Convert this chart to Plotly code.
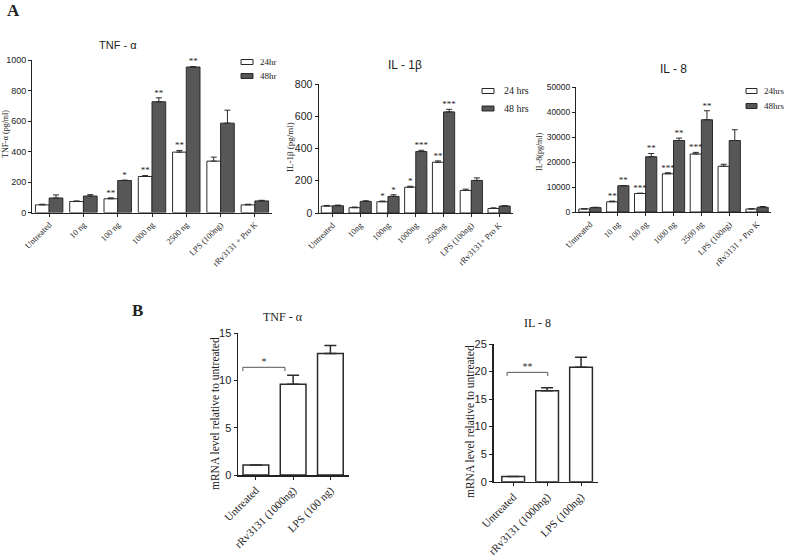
import plotly.graph_objects as go

W, H = 787, 556

# ---------------- data ----------------
tnf_cats = ["Untreated", "10 ng", "100 ng", "1000 ng", "2500 ng", "LPS (100ng)", "rRv3131 + Pro K"]
il1_cats = ["Untreated", "10ng", "100ng", "1000ng", "2500ng", "LPS (100ng)", "rRv3131+ Pro K"]
il8_cats = ["Untreated", "10 ng", "100 ng", "1000 ng", "2500 ng", "LPS (100ng)", "rRv3131 + Pro K"]

tnf_24 = [50, 72, 90, 236, 396, 337, 50]
tnf_24_err = [4, 4, 6, 6, 11, 26, 4]
tnf_48 = [95, 108, 210, 726, 954, 586, 76]
tnf_48_err = [20, 9, 2, 26, 3, 85, 4]
tnf_24_sig = ["", "", "**", "**", "**", "", ""]
tnf_48_sig = ["", "", "*", "**", "**", "", ""]

il1_24 = [43, 33, 70, 160, 315, 140, 28]
il1_24_err = [4, 4, 4, 6, 8, 8, 4]
il1_48 = [45, 72, 103, 381, 627, 202, 43]
il1_48_err = [4, 4, 10, 8, 16, 16, 2]
il1_24_sig = ["", "", "*", "*", "**", "", ""]
il1_48_sig = ["", "", "*", "***", "***", "", ""]

il8_24 = [1200, 4100, 7400, 15300, 23200, 18300, 1200]
il8_24_err = [150, 270, 150, 400, 650, 800, 150]
il8_48 = [1750, 10500, 22100, 28600, 36900, 28600, 1900]
il8_48_err = [150, 100, 1300, 950, 3600, 4300, 300]
il8_24_sig = ["", "**", "***", "***", "***", "", ""]
il8_48_sig = ["", "**", "**", "**", "**", "", ""]

b_tnf_cats = ["Untreated", "rRv3131 (1000ng)", "LPS (100 ng)"]
b_tnf = [1.05, 9.6, 12.85]
b_tnf_err = [0, 0.95, 0.85]
b_tnf_bracket = [-0.35, 0.78, 11.0, 11.4]   # x0, x1, foot, top
b_tnf_sig = "*"

b_il8_cats = ["Untreated", "rRv3131 (1000ng)", "LPS (100ng)"]
b_il8 = [0.95, 16.5, 20.8]
b_il8_err = [0, 0.55, 1.8]
b_il8_bracket = [-0.18, 1.02, 19.2, 19.85]
b_il8_sig = "**"

# ---------------- styles ----------------
SANS = "Liberation Sans, Arial, sans-serif"
SERIF = "Liberation Serif, Times New Roman, serif"
DARK = "#575757"
EDGE = "#2b2b2b"


def fx(x):
    return x / W


def fy(y):
    return 1 - y / H


fig = go.Figure()


def add_pair(ax, cats, v24, e24, v48, e48, s24, s48, name24, name48):
    xs = list(range(len(cats)))
    xa = "x" if ax == 1 else f"x{ax}"
    ya = "y" if ax == 1 else f"y{ax}"
    for vals, errs, fill, nm in ((v24, e24, "white", name24), (v48, e48, DARK, name48)):
        fig.add_trace(go.Bar(
            x=xs, y=vals, name=nm, xaxis=xa, yaxis=ya, showlegend=False,
            marker=dict(color=fill, line=dict(color=EDGE, width=1)),
            error_y=dict(type="data", array=errs, arrayminus=[0] * len(errs), symmetric=False,
                         color=EDGE, thickness=1, width=3),
        ))
    for vals, errs, sig, off in ((v24, e24, s24, -0.2), (v48, e48, s48, 0.2)):
        fig.add_trace(go.Scatter(
            x=[i + off for i in xs], y=[v + e for v, e in zip(vals, errs)], text=sig,
            mode="text", textposition="top center", xaxis=xa, yaxis=ya, showlegend=False,
            cliponaxis=False,
            textfont=dict(family=SERIF, size=9, color="#222"), hoverinfo="skip",
        ))


add_pair(1, tnf_cats, tnf_24, tnf_24_err, tnf_48, tnf_48_err, tnf_24_sig, tnf_48_sig, "24hr", "48hr")
add_pair(2, il1_cats, il1_24, il1_24_err, il1_48, il1_48_err, il1_24_sig, il1_48_sig, "24 hrs", "48 hrs")
add_pair(3, il8_cats, il8_24, il8_24_err, il8_48, il8_48_err, il8_24_sig, il8_48_sig, "24hrs", "48hrs")


def add_single(ax, cats, vals, errs, width):
    xs = list(range(len(cats)))
    fig.add_trace(go.Bar(
        x=xs, y=vals, xaxis=f"x{ax}", yaxis=f"y{ax}", showlegend=False, width=width,
        marker=dict(color="white", line=dict(color=EDGE, width=1.5)),
        error_y=dict(type="data", array=errs, arrayminus=[0] * len(errs), symmetric=False,
                     color=EDGE, thickness=1.5, width=6),
    ))


add_single(4, b_tnf_cats, b_tnf, b_tnf_err, 0.69)
add_single(5, b_il8_cats, b_il8, b_il8_err, 0.67)

# brackets + significance for panel B
for ax, br, sig in ((4, b_tnf_bracket, b_tnf_sig), (5, b_il8_bracket, b_il8_sig)):
    x0, x1, foot, top = br
    fig.add_shape(type="path", xref=f"x{ax}", yref=f"y{ax}",
                  path=f"M {x0},{foot} L {x0},{top} L {x1},{top} L {x1},{foot}",
                  line=dict(color="#555", width=1))
    fig.add_trace(go.Scatter(x=[(x0 + x1) / 2], y=[top], text=[sig], mode="text",
                             textposition="top center", xaxis=f"x{ax}", yaxis=f"y{ax}",
                             showlegend=False, hoverinfo="skip", cliponaxis=False,
                             textfont=dict(family=SERIF, size=10, color="#333")))

# ---------------- axes ----------------
panels = {
    1: dict(xd=(32, 272), yd=(60, 212.5), yr=[0, 1000], dt=200, cats=tnf_cats, xr=[-0.5, 6.5], tf=8.5, yf=9),
    2: dict(xd=(318.5, 513), yd=(84, 213), yr=[0, 800], dt=200, cats=il1_cats, xr=[-0.5, 6.5], tf=8.5, yf=10.5),
    3: dict(xd=(576, 771), yd=(87, 212), yr=[0, 50000], dt=10000, cats=il8_cats, xr=[-0.5, 6.5], tf=8.5, yf=8.5),
    4: dict(xd=(238, 349), yd=(333.3, 475), yr=[0, 15], dt=5, cats=b_tnf_cats, xr=[-0.48, 2.5], tf=11, yf=11),
    5: dict(xd=(493.5, 598), yd=(344, 481.7), yr=[0, 25], dt=5, cats=b_il8_cats, xr=[-0.58, 2.5], tf=11, yf=11),
}
lay = {}
for k, p in panels.items():
    sx = "xaxis" if k == 1 else f"xaxis{k}"
    sy = "yaxis" if k == 1 else f"yaxis{k}"
    yname = "y" if k == 1 else f"y{k}"
    xname = "x" if k == 1 else f"x{k}"
    lw = 1.5 if k >= 4 else 1
    lay[sx] = dict(domain=[fx(p["xd"][0]), fx(p["xd"][1])], range=p["xr"], anchor=yname,
                   tickmode="array", tickvals=list(range(len(p["cats"]))), ticktext=p["cats"],
                   tickangle=-45, ticks="outside", ticklen=3, tickcolor="#222", showline=True,
                   linecolor="#222", linewidth=lw, showgrid=False, zeroline=False,
                   tickfont=dict(family=SERIF, size=p["tf"], color="#222"), fixedrange=True)
    lay[sy] = dict(domain=[fy(p["yd"][1]), fy(p["yd"][0])], range=p["yr"], anchor=xname,
                   dtick=p["dt"], tick0=0, ticks="outside", ticklen=3, tickcolor="#222",
                   tickformat="d",
                   showline=True, linecolor="#222", linewidth=lw, showgrid=False, zeroline=False,
                   tickfont=dict(family=SANS, size=p["yf"], color="#222"), fixedrange=True)

fig.update_layout(**lay)

# ---------------- text annotations ----------------
ann = []


def text(x, y, s, size, family=SANS, angle=0, xanchor="center", bold=False):
    ann.append(dict(x=fx(x), y=fy(y), xref="paper", yref="paper", text=f"<b>{s}</b>" if bold else s,
                    showarrow=False, textangle=angle, xanchor=xanchor, yanchor="middle",
                    font=dict(family=family, size=size, color="#222")))


text(13, 11, "A", 17, SERIF, bold=True)
text(137, 310, "B", 17, SERIF, bold=True)
text(118, 45, "TNF - α", 11)
text(405, 65, "IL - 1β", 12)
text(673, 69, "IL - 8", 12)
text(283, 317, "TNF - α", 12, SERIF)
text(537, 323, "IL - 8", 12, SERIF)
text(5, 134, "TNF-α (pg/ml)", 8, SERIF, angle=-90)
text(290, 147, "IL-1β (pg/ml)", 9, SERIF, angle=-90)
text(539, 152, "IL-8(pg/ml)", 8, SERIF, angle=-90)
text(215, 414, "mRNA level relative to untreated", 11.5, SERIF, angle=-90)
text(470, 421, "mRNA level relative to untreated", 11.5, SERIF, angle=-90)

# custom legends (flat boxes as in the original)
legends = [
    (241, 253, 62, 76, 258, ("24hr", "48hr"), 9),
    (482, 494, 91, 108.5, 502, ("24 hrs", "48 hrs"), 10),
    (746, 757, 91, 106, 762, ("24hrs", "48hrs"), 9),
]
shapes = []
for x0, x1, y1, y2, tx, labels, fs in legends:
    for yy, fill, lab in ((y1, "white", labels[0]), (y2, DARK, labels[1])):
        shapes.append(dict(type="rect", xref="paper", yref="paper", x0=fx(x0), x1=fx(x1),
                           y0=fy(yy + 2.5), y1=fy(yy - 2.5), fillcolor=fill,
                           line=dict(color=EDGE, width=1)))
        text(tx, yy, lab, fs, SERIF, xanchor="left")

for s in shapes:
    fig.add_shape(**s)

fig.update_layout(
    width=W, height=H, autosize=False,
    margin=dict(l=0, r=0, t=0, b=0, autoexpand=False),
    paper_bgcolor="white", plot_bgcolor="white",
    barmode="group", bargap=0.2, bargroupgap=0,
    annotations=ann, showlegend=False,
)

fig.write_html("out.html", config={"displayModeBar": False, "staticPlot": True},
               post_script="document.body.style.margin='0';document.body.style.overflow='hidden';")
